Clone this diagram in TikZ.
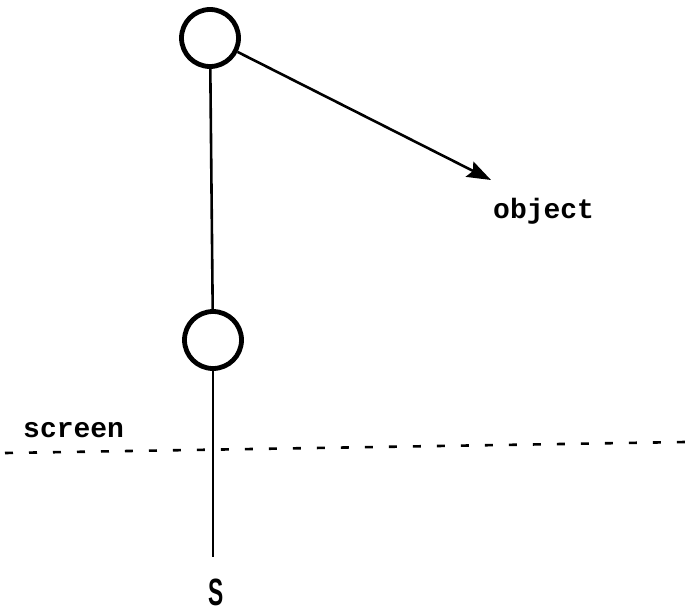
\documentclass[tikz,border=0pt]{standalone}
\usepackage{fontspec}
\setmonofont{Liberation Mono}
\newfontfamily\sfS{Liberation Sans}
\usetikzlibrary{arrows.meta}
\begin{document}
\begin{tikzpicture}[x=1pt,y=-1pt,
  ring/.style={circle,draw,line width=4.8pt,minimum size=57pt,inner sep=0pt},
  lbl/.style={inner sep=0pt,font=\ttfamily\bfseries\fontsize{28}{30}\selectfont},
  link/.style={line width=2.6pt}]
\useasboundingbox (0,0) rectangle (685,613);
\node[ring] (top) at (210,38) {};
\node[ring] (mid) at (213,340) {};
\coordinate (tip) at (491,180);
\coordinate (bot) at (213,557);
\coordinate (sl) at (5,453);
\coordinate (sr) at (685,442);
\draw[link] (top) -- (mid);
\draw[link] (mid) -- (bot);
\draw[link,-{Stealth[length=24pt,width=17pt,inset=4pt]}] (top) -- (tip);
\draw[line width=2.6pt,dash pattern=on 8pt off 16pt] (sl) -- (sr);
\node[lbl,anchor=base west] (obj) at (493,218) {object};
\node[lbl,anchor=base west] (scr) at (23,437) {screen};
\node[inner sep=0pt] (s) at (216,592) {\sfS\bfseries\fontsize{38}{40}\selectfont\scalebox{0.6}[1]{S}};
\end{tikzpicture}
\end{document}
